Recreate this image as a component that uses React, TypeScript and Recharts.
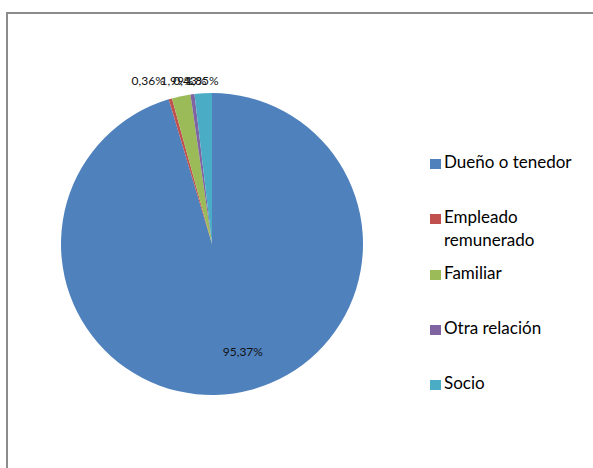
import React from 'react';
import { PieChart, Pie, Cell, Legend } from 'recharts';

const categories = ['Dueño o tenedor', 'Empleado remunerado', 'Familiar', 'Otra relación', 'Socio'];
const values = [95.37, 0.36, 1.99, 0.43, 1.85];
const colors = ['#4F81BD', '#C0504D', '#9BBB59', '#8064A2', '#4BACC6'];

const data = categories.map((name, i) => ({ name, value: values[i] }));

const FONT = 'Lato, "Open Sans", sans-serif';
const RAD = Math.PI / 180;

const fmt = (v: number) => v.toFixed(2).replace('.', ',') + '%';

const renderLabel = (props: any) => {
  const { cx, cy, midAngle, outerRadius, value, index } = props;
  if (value > 50) {
    const r = outerRadius * 0.72;
    const x = cx + r * Math.cos(-midAngle * RAD);
    const y = cy - r * Math.sin(midAngle * RAD);
    return (
      <text x={x - 5} y={y} fontSize={12} fontFamily={FONT} fill="#111" textAnchor="start" dominantBaseline="central">
        {fmt(value)}
      </text>
    );
  }
  const ang = ((midAngle % 360) + 360) % 360;
  const r = outerRadius + 20;
  const x = cx + r * Math.cos(-midAngle * RAD);
  const y = cy - outerRadius - 13;
  return (
    <text x={x} y={y} fontSize={12} fontFamily={FONT} fill="#111" textAnchor={ang > 105 ? 'end' : 'middle'} dominantBaseline="central" key={index}>
      {fmt(value)}
    </text>
  );
};

const renderLegend = () => (
  <div style={{ fontFamily: FONT, fontSize: 17, color: '#000' }}>
    {data.map((d, i) => (
      <div key={d.name} style={{ height: 55.3, display: 'flex', alignItems: 'flex-start' }}>
        <div style={{ width: 11, height: 10, background: colors[i], marginTop: 4, marginRight: 3, flex: 'none' }} />
        <div style={{ width: 140, lineHeight: '23px', marginTop: -5 }}>{d.name}</div>
      </div>
    ))}
  </div>
);

export default function App() {
  return (
    <div style={{ position: 'absolute', left: 0, top: 0, width: 593, height: 468, overflow: 'hidden', background: '#fff' }}>
      <div style={{ position: 'absolute', left: 6, top: 12, width: 600, height: 470, borderLeft: '2px solid #8c8c8c', borderTop: '2px solid #8c8c8c', boxSizing: 'border-box' }} />
      <div style={{ position: 'absolute', left: 0, top: 0 }}>
        <PieChart width={593} height={468} margin={{ top: 0, right: 0, bottom: 0, left: 0 }}>
          <Pie
            data={data}
            dataKey="value"
            nameKey="name"
            cx={212}
            cy={244}
            outerRadius={151}
            startAngle={90}
            endAngle={-270}
            stroke="none"
            label={renderLabel}
            labelLine={false}
            isAnimationActive={false}
          >
            {data.map((d, i) => (
              <Cell key={d.name} fill={colors[i]} />
            ))}
          </Pie>
          <Legend content={renderLegend} layout="vertical" wrapperStyle={{ left: 430, top: 155, width: 160 }} />
        </PieChart>
      </div>
    </div>
  );
}
